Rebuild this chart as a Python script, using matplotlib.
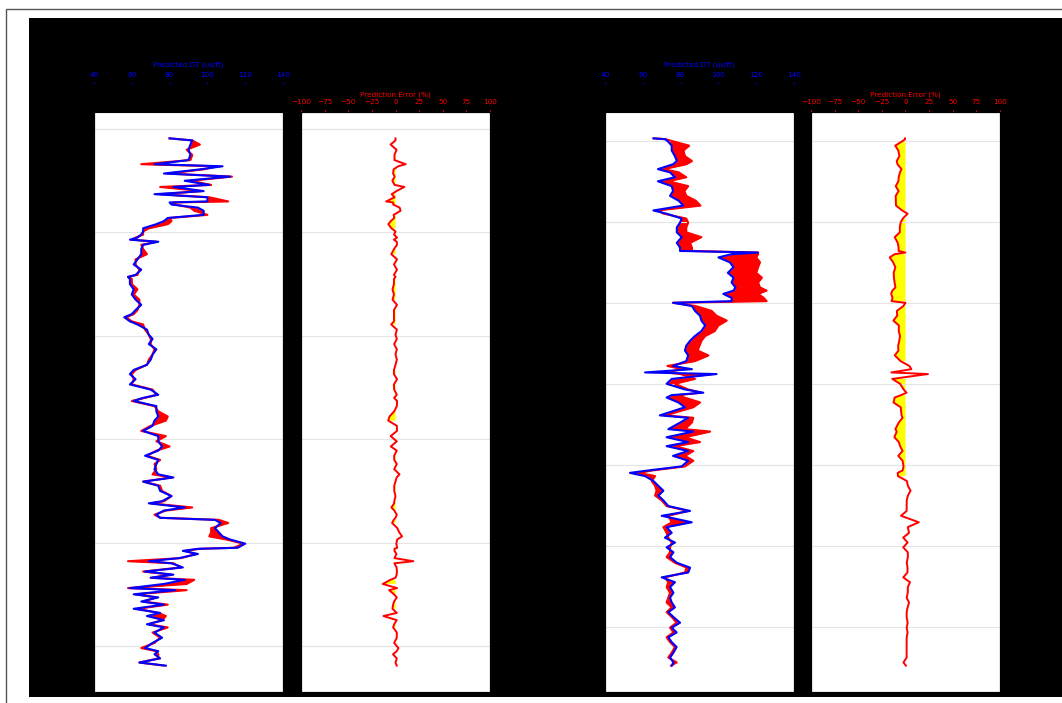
import numpy as np
import matplotlib
matplotlib.use("Agg")
import matplotlib.pyplot as plt
from matplotlib.patches import Rectangle
from matplotlib.ticker import MultipleLocator

# Well 1 : depth, predicted DT, measured DT (us/ft)
depth_1 = [2009, 2011, 2015, 2020, 2025, 2030, 2034, 2036, 2039, 2043, 2046, 2050, 2054, 2056,
           2060, 2063, 2066, 2070, 2071, 2073, 2076, 2079, 2083, 2086, 2089, 2092, 2096, 2099,
           2102, 2105, 2107, 2109, 2112, 2116, 2121, 2126, 2131, 2136, 2141, 2143, 2145, 2150,
           2155, 2160, 2165, 2170, 2175, 2179, 2182, 2186, 2189, 2194, 2199, 2203, 2208, 2213,
           2218, 2223, 2228, 2233, 2237, 2242, 2247, 2252, 2257, 2260, 2263, 2268, 2273, 2278,
           2282, 2287, 2292, 2297, 2302, 2307, 2311, 2316, 2320, 2324, 2329, 2334, 2337, 2341,
           2345, 2350, 2355, 2360, 2362, 2366, 2369, 2373, 2376, 2378, 2381, 2386, 2390, 2394,
           2397, 2401, 2405, 2406, 2408, 2411, 2415, 2418, 2420, 2424, 2428, 2431, 2434, 2436,
           2440, 2444, 2446, 2450, 2453, 2457, 2460, 2464, 2468, 2471, 2475, 2479, 2482, 2487,
           2492, 2497, 2502, 2505, 2508, 2512, 2516, 2519]
pred_1 = [80, 92, 91, 90, 91, 90, 72, 108, 96, 77, 112, 88, 101, 82,
          98, 72, 100, 100, 80, 81, 95, 98, 98, 79, 77, 73, 66, 66,
          65, 63, 59, 74, 66, 65, 65, 63, 61, 65, 62, 58, 59, 59,
          61, 60, 62, 65, 62, 60, 56, 59, 63, 68, 69, 71, 69, 73,
          71, 70, 68, 61, 59, 62, 59, 70, 74, 66, 61, 73, 73, 74,
          72, 71, 66, 74, 74, 76, 74, 67, 74, 73, 72, 74, 82, 66,
          74, 75, 81, 76, 69, 88, 77, 73, 75, 104, 107, 104, 106, 108,
          112, 120, 116, 95, 87, 95, 85, 69, 81, 87, 67, 82, 70, 88,
          77, 59, 83, 61, 74, 65, 77, 61, 75, 68, 77, 68, 77, 72,
          76, 71, 67, 74, 72, 75, 64, 78]
actual_1 = [80, 92, 96, 89, 92, 91, 65, 105, 98, 79, 113, 91, 102, 75,
            97, 75, 101, 111, 82, 83, 91, 93, 100, 80, 81, 79, 69, 66,
            66, 62, 60, 73, 65, 66, 68, 62, 62, 64, 63, 58, 60, 60,
            63, 61, 64, 64, 63, 61, 57, 60, 66, 67, 69, 70, 70, 72,
            71, 69, 68, 62, 60, 61, 60, 71, 73, 67, 60, 72, 74, 79,
            78, 70, 65, 78, 73, 80, 73, 68, 75, 72, 73, 71, 81, 66,
            75, 76, 81, 77, 70, 92, 78, 72, 75, 106, 111, 102, 102, 101,
            110, 119, 114, 96, 88, 94, 86, 58, 82, 86, 66, 81, 70, 93,
            89, 58, 89, 62, 73, 66, 79, 63, 74, 78, 76, 69, 79, 71,
            75, 72, 65, 73, 74, 74, 64, 77]

# Well 2 : depth, predicted DT, measured DT (us/ft)
depth_2 = [1197, 1198, 1200, 1206, 1212, 1219, 1225, 1229, 1235, 1239, 1245, 1250, 1256, 1262,
           1268, 1274, 1280, 1286, 1290, 1296, 1301, 1307, 1313, 1319, 1326, 1332, 1336, 1338,
           1340, 1344, 1350, 1356, 1363, 1369, 1375, 1381, 1385, 1389, 1394, 1398, 1400, 1404,
           1410, 1416, 1422, 1428, 1435, 1441, 1447, 1453, 1459, 1465, 1472, 1478, 1482, 1486,
           1488, 1494, 1500, 1507, 1511, 1514, 1517, 1523, 1529, 1539, 1542, 1548, 1556, 1559,
           1566, 1572, 1577, 1583, 1589, 1595, 1602, 1607, 1610, 1614, 1620, 1626, 1632, 1638,
           1644, 1651, 1657, 1663, 1671, 1677, 1684, 1690, 1696, 1702, 1708, 1714, 1721, 1727,
           1733, 1739, 1745, 1751, 1758, 1764, 1770, 1776, 1782, 1788, 1795, 1801, 1807, 1813,
           1819, 1825, 1832, 1838, 1844, 1848]
pred_2 = [65.6, 71.7, 73.0, 75.3, 75.3, 77.0, 78.0, 76.0, 68.0, 74.4, 77.0, 68.0, 75.3, 76.0,
          74.4, 79.0, 81.4, 65.6, 72.6, 80.6, 79.7, 78.0, 78.0, 80.6, 78.0, 79.7, 79.7, 121.0,
          107.0, 100.0, 106.0, 108.0, 105.0, 108.0, 107.0, 109.0, 108.0, 102.6, 107.0, 107.0, 76.0, 86.0,
          87.6, 90.3, 91.0, 93.0, 91.0, 87.6, 85.0, 83.0, 82.3, 84.0, 83.0, 76.0, 86.0, 61.2,
          99.0, 75.3, 72.6, 82.3, 92.0, 75.3, 72.6, 78.8, 82.3, 69.0, 84.0, 79.7, 73.5, 86.7,
          72.6, 84.0, 72.6, 84.0, 76.0, 84.0, 80.6, 63.0, 53.2, 61.2, 65.6, 68.2, 70.9, 68.2,
          70.9, 73.5, 85.0, 70.0, 85.9, 72.6, 75.3, 71.7, 77.0, 72.6, 76.2, 74.4, 78.0, 85.0,
          84.0, 70.0, 77.0, 74.4, 76.2, 74.4, 75.3, 77.0, 73.5, 76.2, 79.7, 75.3, 77.9, 73.5,
          75.3, 77.9, 76.2, 74.4, 76.2, 75.3]
actual_2 = [66.0, 72.0, 75.0, 84.5, 81.5, 82.3, 86.0, 83.0, 71.0, 79.0, 83.0, 73.5, 84.0, 82.0,
            83.0, 88.0, 90.5, 68.0, 71.0, 83.0, 84.0, 83.0, 83.0, 91.0, 85.0, 86.0, 86.0, 121.0,
            121.0, 120.0, 122.0, 121.0, 120.0, 123.0, 121.0, 122.0, 125.5, 121.0, 124.0, 125.5, 76.0, 88.0,
            96.4, 99.0, 104.4, 100.0, 98.0, 93.0, 91.0, 90.0, 89.0, 94.7, 87.6, 73.0, 81.0, 72.0,
            80.0, 87.6, 77.0, 84.0, 91.0, 79.0, 82.0, 90.3, 86.7, 72.0, 86.7, 85.9, 82.3, 95.6,
            82.3, 90.3, 77.0, 86.7, 82.3, 86.7, 82.3, 65.0, 58.0, 66.5, 64.7, 66.5, 67.3, 66.5,
            70.0, 72.6, 84.0, 73.5, 75.3, 70.9, 72.6, 73.5, 75.3, 74.4, 74.4, 72.6, 77.0, 83.2,
            82.3, 71.7, 73.5, 72.6, 74.4, 73.5, 72.6, 75.3, 72.6, 75.3, 77.9, 74.4, 76.2, 72.6,
            74.4, 77.0, 75.3, 73.5, 77.9, 75.0]

dt_ticks = [40, 60, 80, 100, 120, 140]
err_ticks = [-100, -75, -50, -25, 0, 25, 50, 75, 100]

W, H = 1062, 703
fig = plt.figure(figsize=(W / 100, H / 100), dpi=100, facecolor="white")

# frame and dark background of the original output cell
fig.patches.append(Rectangle((5.5 / W, -0.05), 1.1, 1 - 8.5 / H + 0.05, transform=fig.transFigure,
                             facecolor="none", edgecolor="#555555", lw=1.0, zorder=-10))
fig.patches.append(Rectangle((29 / W, 1 - 697 / H), 1 - 29 / W, (697 - 18) / H,
                             transform=fig.transFigure, facecolor="black", edgecolor="none", zorder=-10))

bottom = 1 - 692 / H
height = 580 / H
panel_w = 189 / W
lefts = [94 / W, 301 / W, 605 / W, 811 / W]
fs = 5.2


def dt_track(left, depth, actual, pred):
    depth = np.array(depth)
    actual = np.array(actual)
    pred = np.array(pred)
    ax = fig.add_axes([left, bottom, panel_w, height])
    ax.fill_betweenx(depth, pred, actual, color="red", lw=0)
    ax.plot(actual, depth, color="red", lw=1.5)
    ax.plot(pred, depth, color="blue", lw=1.5)
    ax.set_xlim(40, 140)
    ax.invert_yaxis()
    ax.yaxis.set_major_locator(MultipleLocator(100))
    ax.grid(axis="y", color="#e4e4e4", lw=0.8)
    ax.set_xticks([])
    ax.tick_params(axis="y", labelsize=5, length=2)
    top = ax.twiny()
    top.set_xlim(40, 140)
    top.set_xticks(dt_ticks)
    top.spines["top"].set_position(("outward", 20.5))
    top.tick_params(axis="x", colors="blue", labelsize=fs, length=1.5, width=0.8, pad=2.5)
    top.set_xlabel("Predicted DT (us/ft)", color="blue", fontsize=fs)
    # place the label above the tick labels of the shifted spine
    top.xaxis.set_label_coords(0.5, 1 + 46 / 580)
    return ax


def err_track(left, depth, actual, pred):
    depth = np.array(depth)
    actual = np.array(actual)
    pred = np.array(pred)
    err = (pred - actual) / actual * 100
    ax = fig.add_axes([left, bottom, panel_w, height])
    ax.fill_betweenx(depth, err, 0, where=err < 0, color="yellow", lw=0)
    ax.plot(err, depth, color="red", lw=1.4)
    ax.set_xlim(-100, 100)
    ax.invert_yaxis()
    ax.yaxis.set_major_locator(MultipleLocator(100))
    ax.grid(axis="y", color="#e4e4e4", lw=0.8)
    ax.set_xticks([])
    ax.set_yticklabels([])
    ax.tick_params(axis="y", length=0)
    top = ax.twiny()
    top.set_xlim(-100, 100)
    top.set_xticks(err_ticks)
    top.tick_params(axis="x", colors="red", labelsize=fs, length=1.5, width=0.8, pad=3.5)
    top.set_xlabel("Prediction Error (%)", color="red", fontsize=fs, labelpad=1.5)
    return ax


dt_track(lefts[0], depth_1, actual_1, pred_1)
err_track(lefts[1], depth_1, actual_1, pred_1)
dt_track(lefts[2], depth_2, actual_2, pred_2)
err_track(lefts[3], depth_2, actual_2, pred_2)

fig.savefig("out.png", dpi=100, facecolor=fig.get_facecolor())
